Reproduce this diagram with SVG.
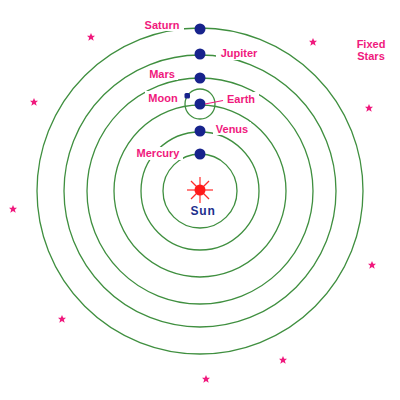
<svg xmlns="http://www.w3.org/2000/svg" xmlns:xlink="http://www.w3.org/1999/xlink" width="400" height="400" viewBox="0 0 400 400">
<style>
.orbit{fill:none;stroke:#3f8f3f;stroke-width:1.3}
.planet{fill:#17238c}
.lbl{font-family:"Liberation Sans",Arial,sans-serif;font-weight:bold;font-size:11px;fill:#f0197d}
.bg{fill:#ffffff}
.star{fill:#f0197d}
</style>
<defs>
<polygon id="st" points="0,-4 1.2,-1.2 4,-1.2 1.8,0.8 2.7,3.8 0,2.1 -2.7,3.8 -1.8,0.8 -4,-1.2 -1.2,-1.2"/>
</defs>
<rect width="400" height="400" fill="#ffffff"/>
<g id="orbits">
<circle class="orbit" cx="200" cy="191" r="37"/>
<circle class="orbit" cx="200" cy="191" r="59"/>
<circle class="orbit" cx="200" cy="191" r="86"/>
<circle class="orbit" cx="200" cy="191" r="113"/>
<circle class="orbit" cx="200" cy="191" r="136"/>
<circle class="orbit" cx="200" cy="191" r="163"/>
<circle class="orbit" cx="200" cy="104" r="15"/>
</g>
<g id="sun">
<g stroke="#ff2a2a" stroke-width="1.2">
<line x1="187" y1="190" x2="213" y2="190"/>
<line x1="200" y1="177" x2="200" y2="203"/>
<line x1="191" y1="181" x2="209" y2="199"/>
<line x1="191" y1="199" x2="209" y2="181"/>
</g>
<circle cx="200" cy="190" r="5.5" fill="#ff1a1a"/>
<text x="203" y="215" text-anchor="middle" font-family="'Liberation Sans',Arial,sans-serif" font-weight="bold" font-size="12" letter-spacing="0.8" fill="#1c2e8c">Sun</text>
</g>
<g id="saturn">
<rect class="bg" x="141" y="18" width="43" height="13"/>
<circle class="planet" cx="200" cy="29" r="5.5"/>
<text class="lbl" x="162" y="29" text-anchor="middle">Saturn</text>
</g>
<g id="jupiter">
<rect class="bg" x="216" y="47" width="46" height="13"/>
<circle class="planet" cx="200" cy="54" r="5.5"/>
<text class="lbl" x="239" y="57" text-anchor="middle">Jupiter</text>
</g>
<g id="mars">
<rect class="bg" x="147" y="68" width="31" height="12"/>
<circle class="planet" cx="200" cy="78" r="5.5"/>
<text class="lbl" x="162" y="78" text-anchor="middle">Mars</text>
</g>
<g id="moon">
<rect class="bg" x="145" y="91" width="37" height="13"/>
<rect x="184.5" y="93" width="5.5" height="5.5" rx="1.5" class="planet"/>
<text class="lbl" x="163" y="102" text-anchor="middle">Moon</text>
</g>
<g id="earth">
<rect class="bg" x="224" y="92" width="35" height="13"/>
<circle class="planet" cx="200" cy="104" r="5.5"/>
<line x1="205" y1="104" x2="223" y2="100.5" stroke="#f0197d" stroke-width="1.2"/>
<text class="lbl" x="241" y="103" text-anchor="middle">Earth</text>
</g>
<g id="venus">
<rect class="bg" x="213" y="122" width="38" height="13"/>
<circle class="planet" cx="200" cy="131" r="5.5"/>
<text class="lbl" x="232" y="133" text-anchor="middle">Venus</text>
</g>
<g id="mercury">
<rect class="bg" x="133" y="147" width="50" height="13"/>
<circle class="planet" cx="200" cy="154" r="5.5"/>
<text class="lbl" x="158" y="157" text-anchor="middle">Mercury</text>
</g>
<g id="fixed-stars">
<text class="lbl" x="371" y="48" text-anchor="middle" font-size="12.5">Fixed</text>
<text class="lbl" x="371" y="60" text-anchor="middle" font-size="12.5">Stars</text>
<use class="star" xlink:href="#st" x="91" y="37"/>
<use class="star" xlink:href="#st" x="313" y="42"/>
<use class="star" xlink:href="#st" x="34" y="102"/>
<use class="star" xlink:href="#st" x="369" y="108"/>
<use class="star" xlink:href="#st" x="13" y="209"/>
<use class="star" xlink:href="#st" x="372" y="265"/>
<use class="star" xlink:href="#st" x="62" y="319"/>
<use class="star" xlink:href="#st" x="283" y="360"/>
<use class="star" xlink:href="#st" x="206" y="379"/>
</g>
</svg>
